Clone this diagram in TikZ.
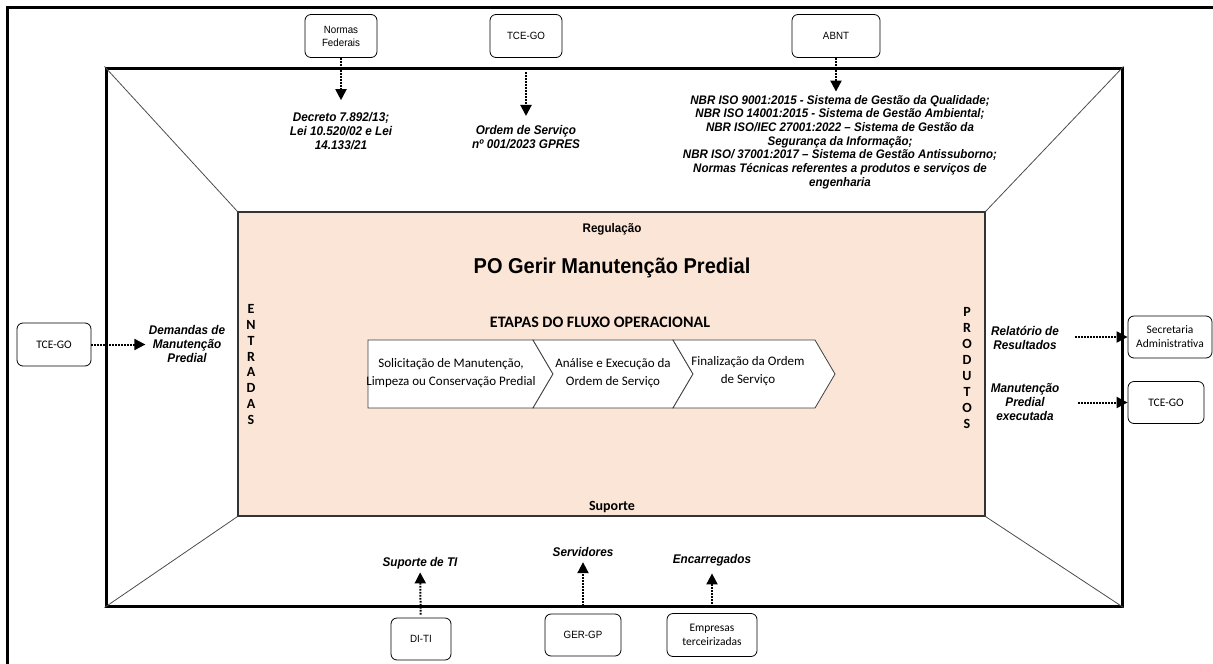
\documentclass[tikz,border=0pt]{standalone}
\usepackage{fontspec}
\setmainfont{Liberation Sans}
\newfontfamily\estreita{Liberation Sans}[FakeStretch=0.93]
\newfontfamily\calibri{Carlito}
\usetikzlibrary{arrows.meta}
\definecolor{salmao}{HTML}{FBE5D6}

\begin{document}
\begin{tikzpicture}[x=1pt,y=-1pt]
        \tikzstyle{caixa}=[draw,rounded corners=6pt,line width=0.8pt,align=center,inner sep=1pt,font=\estreita\fontsize{10.5}{13}\selectfont]
        \tikzstyle{caixac}=[caixa,font=\calibri\fontsize{11.5}{14}\selectfont]
        \tikzstyle{rotulo}=[align=center,font=\estreita\bfseries\itshape\fontsize{12.6}{13.6}\selectfont]
        \tikzstyle{seta}=[line width=2pt,dash pattern=on 1.8pt off 1.2pt,-{Triangle[length=11pt,width=11pt]}]
        \tikzstyle{etapa}=[draw=black!75,line width=0.8pt,fill=white]
        \tikzstyle{vertical}=[align=center,font=\calibri\bfseries\fontsize{14}{15.9}\selectfont]
        \useasboundingbox (0,0) rectangle (1213,664);
        % moldura externa
        \draw[line width=3pt] (1240,7) -- (7,7) -- (7,690);
        \node[draw,line width=3pt,minimum width=1016pt,minimum height=538pt,inner sep=0pt] (quadro) at (614,337) {};
        \node[draw=black!80,line width=1.2pt,fill=salmao,minimum width=747pt,minimum height=304pt,inner sep=0pt] (po) at (611.5,364) {};
        \draw[black!70,line width=0.8pt] (quadro.north west) -- (po.north west);
        \draw[black!70,line width=0.8pt] (quadro.north east) -- (po.north east);
        \draw[black!70,line width=0.8pt] (quadro.south west) -- (po.south west);
        \draw[black!70,line width=0.8pt] (quadro.south east) -- (po.south east);

        % processo
        \node[font=\estreita\bfseries\fontsize{12.5}{14}\selectfont] (regulacao) at (612,229) {Regulação};
        \node[font=\estreita\bfseries\fontsize{21.5}{24}\selectfont] (titulo) at (612,268) {PO Gerir Manutenção Predial};
        \node[font=\calibri\bfseries\fontsize{16}{18}\selectfont] (etapas) at (600,322) {ETAPAS DO FLUXO OPERACIONAL};
        \node[font=\calibri\bfseries\fontsize{14}{16}\selectfont] (suporte) at (612,507) {Suporte};
        \node[vertical] (entradas) at (251,364.5) {E\\N\\T\\R\\A\\D\\A\\S};
        \node[vertical] (produtos) at (967,368) {P\\R\\O\\D\\U\\T\\O\\S};

        % etapas
        \draw[etapa] (368,340) -- (533,340) -- (553,374) -- (533,408) -- (368,408) -- cycle;
        \draw[etapa] (533,340) -- (673,340) -- (693,374) -- (673,408) -- (533,408) -- (553,374) -- cycle;
        \draw[etapa] (673,340) -- (815,340) -- (835,374) -- (815,408) -- (673,408) -- (693,374) -- cycle;
        \node[align=center,font=\calibri\fontsize{13}{18}\selectfont] (e1) at (451,373) {Solicitação de Manutenção,\\Limpeza ou Conservação Predial};
        \node[align=center,font=\calibri\fontsize{13}{18}\selectfont] (e2) at (613,373) {Análise e Execução da\\Ordem de Serviço};
        \node[align=center,font=\calibri\fontsize{13}{18}\selectfont] (e3) at (748,371) {Finalização da Ordem\\de Serviço};

        % regulacao
        \node[caixa,minimum width=72pt,minimum height=43pt] (normas) at (341,36) {Normas\\Federais};
        \node[caixa,minimum width=72pt,minimum height=43pt] (tceR) at (526,36) {TCE-GO};
        \node[caixa,minimum width=88pt,minimum height=43pt] (abnt) at (836,36) {ABNT};
        \node[rotulo] (decreto) at (341,131) {Decreto 7.892/13;\\Lei 10.520/02 e Lei\\14.133/21};
        \node[rotulo] (ordem) at (526,137) {Ordem de Serviço\\nº 001/2023 GPRES};
        \node[rotulo,font=\estreita\bfseries\itshape\fontsize{12.4}{13.7}\selectfont] (normasabnt) at (840,142) {NBR ISO 9001:2015 - Sistema de Gestão da Qualidade;\\NBR ISO 14001:2015 - Sistema de Gestão Ambiental;\\NBR ISO/IEC 27001:2022 – Sistema de Gestão da\\Segurança da Informação;\\NBR ISO/ 37001:2017 – Sistema de Gestão Antissuborno;\\Normas Técnicas referentes a produtos e serviços de\\engenharia};
        \draw[seta,shorten >=9pt] (normas) -- (decreto);
        \draw[seta,shorten <=14pt,shorten >=6pt] (tceR) -- (ordem);
        \draw[seta] (abnt.south) -- (abnt.south |- normasabnt.north);

        % entradas
        \node[caixac,minimum width=74pt,minimum height=43pt] (tceE) at (54,344.5) {TCE-GO};
        \node[rotulo] (demandas) at (187,344) {Demandas de\\Manutenção\\Predial};
        \draw[seta] (tceE.east) -- (demandas.west |- tceE.east);

        % produtos
        \node[rotulo] (relatorio) at (1025,338) {Relatório de\\Resultados};
        \node[rotulo] (manutencao) at (1025,402) {Manutenção\\Predial\\executada};
        \node[caixac,minimum width=84pt,minimum height=42pt] (secretaria) at (1170,337) {Secretaria\\Administrativa};
        \node[caixac,minimum width=76pt,minimum height=42pt] (tceD) at (1166,402.5) {TCE-GO};
        \coordinate (saida1) at (1075,337);
        \coordinate (saida2) at (1078,402.5);
        \draw[seta] (saida1) -- (secretaria.west);
        \draw[seta] (saida2) -- (tceD.west);

        % suporte
        \node[rotulo] (ti) at (420,563) {Suporte de TI};
        \node[rotulo] (servidores) at (583,552) {Servidores};
        \node[rotulo] (encarregados) at (712,560) {Encarregados};
        \node[caixa,minimum width=60pt,minimum height=42pt] (diti) at (421,639) {DI-TI};
        \node[caixa,minimum width=76pt,minimum height=42pt] (gergp) at (583,635) {GER-GP};
        \node[caixac,minimum width=90pt,minimum height=43pt] (empresas) at (712,635) {Empresas\\terceirizadas};
        \draw[seta,shorten <=3pt] (diti) -- (ti);
        \draw[seta,shorten <=8pt,shorten >=2pt] (gergp) -- (servidores);
        \draw[seta,shorten <=6pt,shorten >=4pt] (empresas) -- (encarregados);
\end{tikzpicture}
\end{document}
